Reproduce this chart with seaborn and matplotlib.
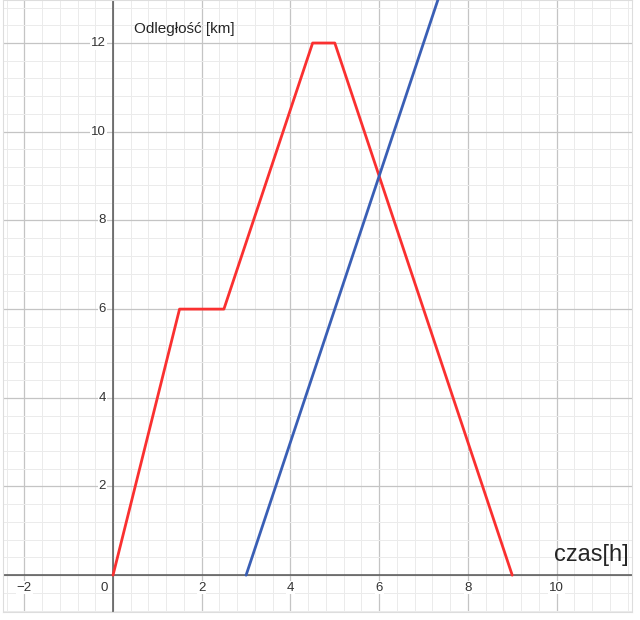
import numpy as np
import pandas as pd
import seaborn as sns
import matplotlib
matplotlib.use('Agg')
import matplotlib.pyplot as plt
from matplotlib.ticker import MultipleLocator

# red path: distance vs time
red_t = [0, 1.5, 2.5, 4.5, 5, 9]
red_d = [0, 6, 6, 12, 12, 0]
# blue path
blue_t = [3, 8]
blue_d = [0, 15]

x_ticks = [-2, 2, 4, 6, 8, 10]
y_ticks = [2, 4, 6, 8, 10, 12]

sns.set_style("white")
plt.rcParams['font.family'] = ['Liberation Sans', 'DejaVu Sans']

fig = plt.figure(figsize=(6.4, 6.2), dpi=100)
ax = fig.add_axes([3 / 640, 8 / 620, 629 / 640, 612 / 620])

ax.set_xlim(-2.48, 11.7)
ax.set_ylim(-0.83, 12.97)

# grid like desmos
ax.xaxis.set_major_locator(MultipleLocator(2))
ax.yaxis.set_major_locator(MultipleLocator(2))
ax.xaxis.set_minor_locator(MultipleLocator(0.4))
ax.yaxis.set_minor_locator(MultipleLocator(0.4))
ax.grid(which='major', color='#c4c4c4', lw=0.9)
ax.grid(which='minor', color='#ebebeb', lw=0.7)
ax.set_axisbelow(True)
ax.tick_params(which='both', length=0, labelbottom=False, labelleft=False)
for s in ax.spines.values():
    s.set_color('#dddddd')

ax.axhline(0, color='#555555', lw=1.1, zorder=2)
ax.axvline(0, color='#555555', lw=1.1, zorder=2)

red = pd.DataFrame({'t': red_t, 'd': red_d})
blue = pd.DataFrame({'t': blue_t, 'd': blue_d})
sns.lineplot(data=red, x='t', y='d', sort=False, color='#fa3030', lw=2, ax=ax, zorder=3)
sns.lineplot(data=blue, x='t', y='d', sort=False, color='#3a5fb5', lw=2, ax=ax, zorder=3)

ax.set_xlabel('')
ax.set_ylabel('')

for v in x_ticks:
    ax.text(v, -0.28, str(v).replace('-', '\u2212'), ha='center', va='center',
            fontsize=9.5, color='#333333',
            bbox=dict(facecolor='white', edgecolor='none', pad=0.5))
ax.text(-0.12, -0.28, '0', ha='right', va='center', fontsize=9.5, color='#333333')
for v in y_ticks:
    ax.text(-0.16, v, str(v), ha='right', va='center', fontsize=9.5, color='#333333',
            bbox=dict(facecolor='white', edgecolor='none', pad=0.5))

ax.text(0.48, 12.32, 'Odległość [km]', fontsize=11, ha='left', va='center')
ax.text(11.62, 0.45, 'czas[h]', fontsize=17, ha='right', va='center')

fig.savefig('out.png', dpi=100)
